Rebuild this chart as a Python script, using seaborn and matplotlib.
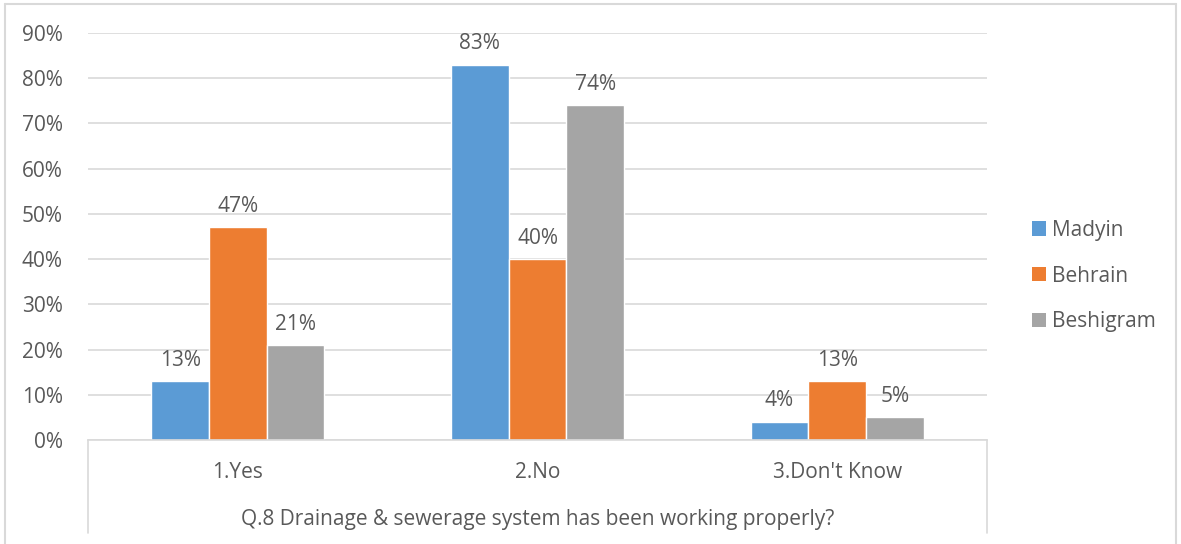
import matplotlib
matplotlib.use("Agg")
import matplotlib.pyplot as plt
import seaborn as sns
import pandas as pd
from matplotlib.lines import Line2D
from matplotlib.patches import Patch

categories = ["1.Yes", "2.No", "3.Don't Know"]
series = ["Madyin", "Behrain", "Beshigram"]
madyin = [13, 83, 4]
behrain = [47, 40, 13]
beshigram = [21, 74, 5]
colors = ["#5B9BD5", "#ED7D31", "#A5A5A5"]
title = "Q.8 Drainage & sewerage system has been working properly?"

rows = []
for name, vals in zip(series, [madyin, behrain, beshigram]):
    for c, v in zip(categories, vals):
        rows.append({"cat": c, "series": name, "val": v})
df = pd.DataFrame(rows)

sns.set_theme(style="white")
plt.rcParams['font.family'] = ['Open Sans', 'DejaVu Sans']
txt = "#595959"
grid = "#D9D9D9"
fs = 15

W, H = 1181, 544
fig = plt.figure(figsize=(W/100, H/100), dpi=100)
L, R, T, B = 88, 987, 33, 440
ax = fig.add_axes([L/W, 1-B/H, (R-L)/W, (B-T)/H])

sns.barplot(data=df, x="cat", y="val", hue="series", palette=colors,
            width=0.577, gap=0, ax=ax, legend=False, saturation=1, errorbar=None)

for cont in ax.containers:
    ax.bar_label(cont, labels=[f"{int(v)}%" for v in cont.datavalues],
                 padding=7.5, fontsize=fs, color=txt)

ax.set_ylim(0, 90)
ax.set_xlim(-0.5, 2.5)
ax.set_yticks(range(0, 91, 10))
ax.set_yticklabels([f"{v}%" for v in range(0, 91, 10)], fontsize=fs, color=txt)
ax.yaxis.grid(True, color=grid, linewidth=1.2)
ax.set_axisbelow(True)
for s in ["top", "right", "left"]:
    ax.spines[s].set_visible(False)
ax.spines["bottom"].set_color(grid)
ax.spines["bottom"].set_linewidth(1.2)
ax.tick_params(axis="y", length=0, pad=18)
ax.tick_params(axis="x", length=0, pad=16, labelsize=fs, labelcolor=txt)
ax.set_xlabel("")
ax.set_ylabel("")

# category box lines
depth = (533 - B) / (B - T)
for xv in [0, 1]:
    ax.add_line(Line2D([xv, xv], [0, -depth], transform=ax.transAxes,
                       color=grid, linewidth=1.2, clip_on=False))
ax.text(0.5, -(520 - B) / (B - T), title, transform=ax.transAxes,
        ha="center", va="center", fontsize=fs, color=txt)

# legend
handles = [Patch(facecolor=c, edgecolor="none", label=s) for c, s in zip(colors, series)]
fig.legend(handles=handles, loc="center left", bbox_to_anchor=(1013/W, 1-276/H),
           frameon=False, fontsize=fs, labelcolor=txt, handlelength=0.68,
           handleheight=0.68, handletextpad=0.28, labelspacing=1.18)

# outer border
bc = "#D9D9D9"
fig.add_artist(Line2D([5/W, 5/W], [0, 1-4/H], transform=fig.transFigure, color=bc, lw=1.5))
fig.add_artist(Line2D([5/W, 1176/W], [1-4/H, 1-4/H], transform=fig.transFigure, color=bc, lw=1.5))
fig.add_artist(Line2D([1176/W, 1176/W], [0, 1-4/H], transform=fig.transFigure, color=bc, lw=1.5))

fig.savefig("out.png", dpi=100)
